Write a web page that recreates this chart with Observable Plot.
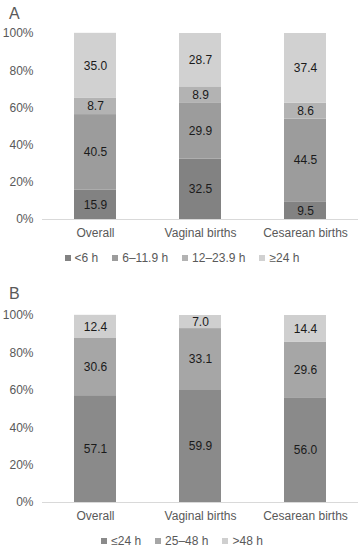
<!DOCTYPE html>
<html>
<head>
<meta charset="utf-8">
<script src="https://cdn.jsdelivr.net/npm/d3@7"></script>
<script src="https://cdn.jsdelivr.net/npm/@observablehq/plot@0.6"></script>
<style>
  html, body { margin: 0; padding: 0; background: #fff; }
  #root { position: relative; width: 364px; height: 550px; font-family: "Liberation Sans", Arial, sans-serif; }
  .panel-label { position: absolute; left: 9px; font-size: 16px; color: #595959; line-height: 1; }
  .legend { position: absolute; left: 0; width: 364px; display: flex; justify-content: center; font-size: 12px; color: #595959; line-height: 1; }
  .legend .item { display: flex; align-items: center; margin: 0 7px; }
  .legend .sw { width: 6px; height: 6px; margin-right: 4px; }
</style>
</head>
<body>
<div id="root"></div>
<script>
// ---- data ----
const categories = ["Overall", "Vaginal births", "Cesarean births"];

const seriesA = ["<6 h", "6–11.9 h", "12–23.9 h", "≥24 h"];
const colorsA = ["#828282", "#9c9c9c", "#b3b3b3", "#d1d1d1"];
const valuesA = {
  "<6 h":      [15.9, 32.5, 9.5],
  "6–11.9 h":  [40.5, 29.9, 44.5],
  "12–23.9 h": [8.7, 8.9, 8.6],
  "≥24 h":     [35.0, 28.7, 37.4]
};

const seriesB = ["≤24 h", "25–48 h", ">48 h"];
const colorsB = ["#8a8a8a", "#a6a6a6", "#cfcfcf"];
const valuesB = {
  "≤24 h":   [57.1, 59.9, 56.0],
  "25–48 h": [30.6, 33.1, 29.6],
  ">48 h":   [12.4, 7.0, 14.4]
};

const yTicks = [0, 20, 40, 60, 80, 100];

function buildRows(series, values) {
  const rows = [];
  categories.forEach((c, i) => {
    series.forEach(s => rows.push({category: c, series: s, value: values[s][i]}));
  });
  return rows;
}

function makeChart(series, colors, values, height) {
  const rows = buildRows(series, values);
  return Plot.plot({
    width: 364,
    height: height,
    marginLeft: 42,
    marginRight: 6,
    marginTop: 8,
    marginBottom: 22,
    style: {fontFamily: '"Liberation Sans", Arial, sans-serif', fontSize: "12px", color: "#595959", background: "transparent"},
    x: {domain: categories, paddingInner: 0.6, paddingOuter: 0.3, label: null, tickSize: 0, tickPadding: 9},
    y: {domain: [0, 100], ticks: yTicks, tickFormat: d => d + "%", label: null, tickSize: 0, tickPadding: 9},
    color: {domain: series, range: colors},
    marks: [
      Plot.barY(rows, Plot.stackY({x: "category", y: "value", fill: "series"})),
      Plot.textY(rows, Plot.stackY({x: "category", y: "value", text: d => d.value.toFixed(1), fill: "#1a1a1a", fontSize: 12})),
      Plot.ruleY([0], {stroke: "#d9d9d9", strokeWidth: 1}),
      Plot.axisY({ticks: yTicks, tickFormat: d => d + "%", tickSize: 0, tickPadding: 9, label: null}),
      Plot.axisX({tickSize: 0, tickPadding: 9, label: null})
    ]
  });
}

function makeLegend(series, colors, top) {
  const div = document.createElement("div");
  div.className = "legend";
  div.style.top = top + "px";
  series.forEach((s, i) => {
    const item = document.createElement("div");
    item.className = "item";
    const sw = document.createElement("span");
    sw.className = "sw";
    sw.style.background = colors[i];
    const t = document.createElement("span");
    t.textContent = s;
    item.appendChild(sw);
    item.appendChild(t);
    div.appendChild(item);
  });
  return div;
}

const root = document.getElementById("root");

function addLabel(text, top) {
  const d = document.createElement("div");
  d.className = "panel-label";
  d.style.top = top + "px";
  d.textContent = text;
  root.appendChild(d);
}

addLabel("A", 6);
const chartA = makeChart(seriesA, colorsA, valuesA, 216);
chartA.style.position = "absolute";
chartA.style.left = "0px";
chartA.style.top = "25px";
root.appendChild(chartA);
root.appendChild(makeLegend(seriesA, colorsA, 252));

addLabel("B", 286);
const chartB = makeChart(seriesB, colorsB, valuesB, 217);
chartB.style.position = "absolute";
chartB.style.left = "0px";
chartB.style.top = "307px";
root.appendChild(chartB);
root.appendChild(makeLegend(seriesB, colorsB, 535));
</script>
</body>
</html>
